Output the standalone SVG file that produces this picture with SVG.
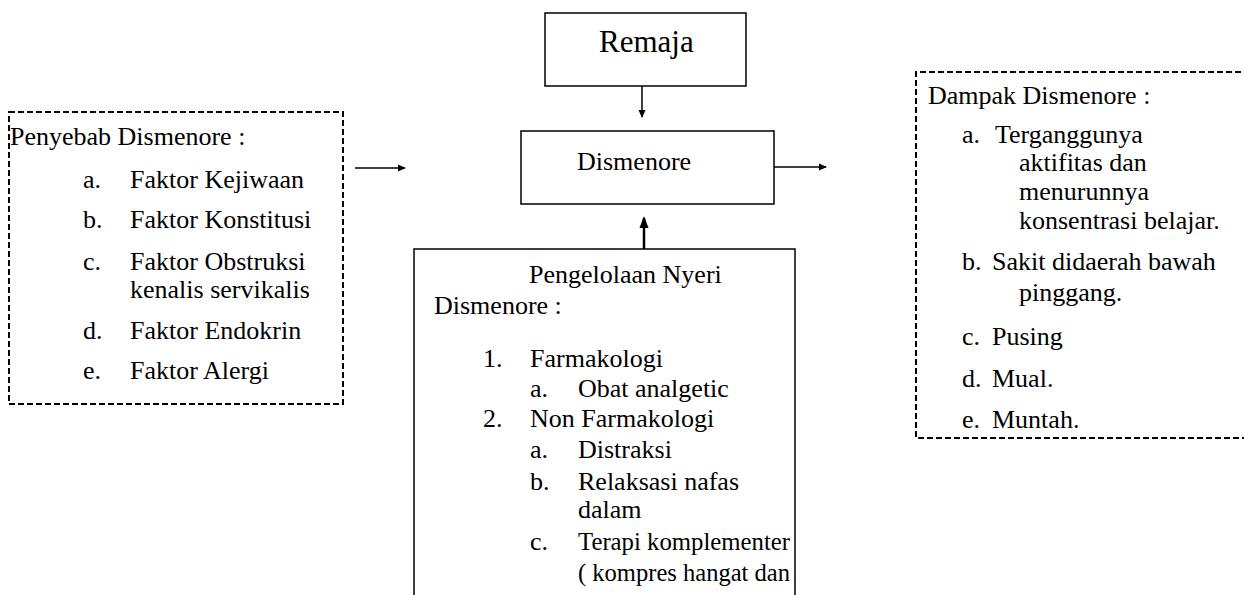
<svg xmlns="http://www.w3.org/2000/svg" width="1244" height="595" viewBox="0 0 1244 595" font-family="'Liberation Serif', 'Times New Roman', 'DejaVu Serif', serif">
<style>
text{font-family:'Liberation Serif','Times New Roman','DejaVu Serif',serif;font-size:26px;fill:#000}
.big{font-size:31px}
.solid{fill:#fff;stroke:#000;stroke-width:1.5}
.dash{fill:none;stroke:#000;stroke-width:2;stroke-dasharray:6 3}
.conn{stroke:#000;stroke-width:1.5;fill:none}
.thick{stroke:#000;stroke-width:2.5;fill:none}
</style>
<defs>
<marker id="ah" viewBox="0 0 8 8" refX="7" refY="4" markerWidth="8" markerHeight="8" markerUnits="userSpaceOnUse" orient="auto">
<path d="M0,0.5 L8,4 L0,7.5 Z" fill="#000"/>
</marker>
<marker id="ahb" viewBox="0 0 12 10" refX="10" refY="5" markerWidth="12" markerHeight="10" markerUnits="userSpaceOnUse" orient="auto">
<path d="M0,0.5 L12,5 L0,9.5 Z" fill="#000"/>
</marker>
</defs>
<rect width="1244" height="595" fill="#fff"/>
<g id="connectors">
<line class="conn" x1="355" y1="168" x2="405" y2="168" marker-end="url(#ah)"/>
<line class="conn" x1="642" y1="86" x2="642" y2="117" marker-end="url(#ah)"/>
<line class="conn" x1="774" y1="167" x2="826" y2="167" marker-end="url(#ah)"/>
<line class="thick" x1="644" y1="249" x2="644" y2="218" marker-end="url(#ahb)"/>
</g>
<g id="penyebab">
<rect class="dash" x="9" y="112" width="334" height="292"/>
<text x="10" y="145">Penyebab Dismenore :</text>
<text x="83" y="188">a.</text><text x="130" y="188">Faktor Kejiwaan</text>
<text x="83" y="228">b.</text><text x="130" y="228">Faktor Konstitusi</text>
<text x="83" y="270">c.</text><text x="130" y="270">Faktor Obstruksi</text>
<text x="130" y="298">kenalis servikalis</text>
<text x="83" y="339">d.</text><text x="130" y="339">Faktor Endokrin</text>
<text x="83" y="379">e.</text><text x="130" y="379">Faktor Alergi</text>
</g>
<g id="remaja">
<rect class="solid" x="545" y="13" width="201" height="73"/>
<text class="big" x="599" y="52">Remaja</text>
</g>
<g id="dismenore">
<rect class="solid" x="521" y="131" width="253" height="73"/>
<text x="577" y="170">Dismenore</text>
</g>
<g id="pengelolaan">
<rect class="solid" x="414" y="249" width="381" height="400"/>
<text x="529" y="283">Pengelolaan Nyeri</text>
<text x="434" y="314">Dismenore :</text>
<text x="483" y="367">1.</text><text x="530" y="367">Farmakologi</text>
<text x="530" y="397">a.</text><text x="578" y="397">Obat analgetic</text>
<text x="483" y="427">2.</text><text x="530" y="427">Non Farmakologi</text>
<text x="530" y="458">a.</text><text x="578" y="458">Distraksi</text>
<text x="530" y="490">b.</text><text x="578" y="490">Relaksasi nafas</text>
<text x="578" y="518">dalam</text>
<text x="530" y="550">c.</text><text x="578" y="550" textLength="212" lengthAdjust="spacingAndGlyphs">Terapi komplementer</text>
<text x="578" y="581" textLength="212" lengthAdjust="spacingAndGlyphs">( kompres hangat dan</text>
</g>
<g id="dampak">
<path class="dash" d="M1250,72 H916 V438 H1250"/>
<text x="928" y="104">Dampak Dismenore :</text>
<text x="962" y="143">a.</text><text x="995" y="143">Terganggunya</text>
<text x="1019" y="171">aktifitas dan</text>
<text x="1019" y="200">menurunnya</text>
<text x="1019" y="229">konsentrasi belajar.</text>
<text x="962" y="270">b.</text><text x="992" y="270">Sakit didaerah bawah</text>
<text x="1019" y="301">pinggang.</text>
<text x="962" y="345">c.</text><text x="992" y="345">Pusing</text>
<text x="962" y="387">d.</text><text x="992" y="387">Mual.</text>
<text x="962" y="428">e.</text><text x="992" y="428">Muntah.</text>
</g>
</svg>
